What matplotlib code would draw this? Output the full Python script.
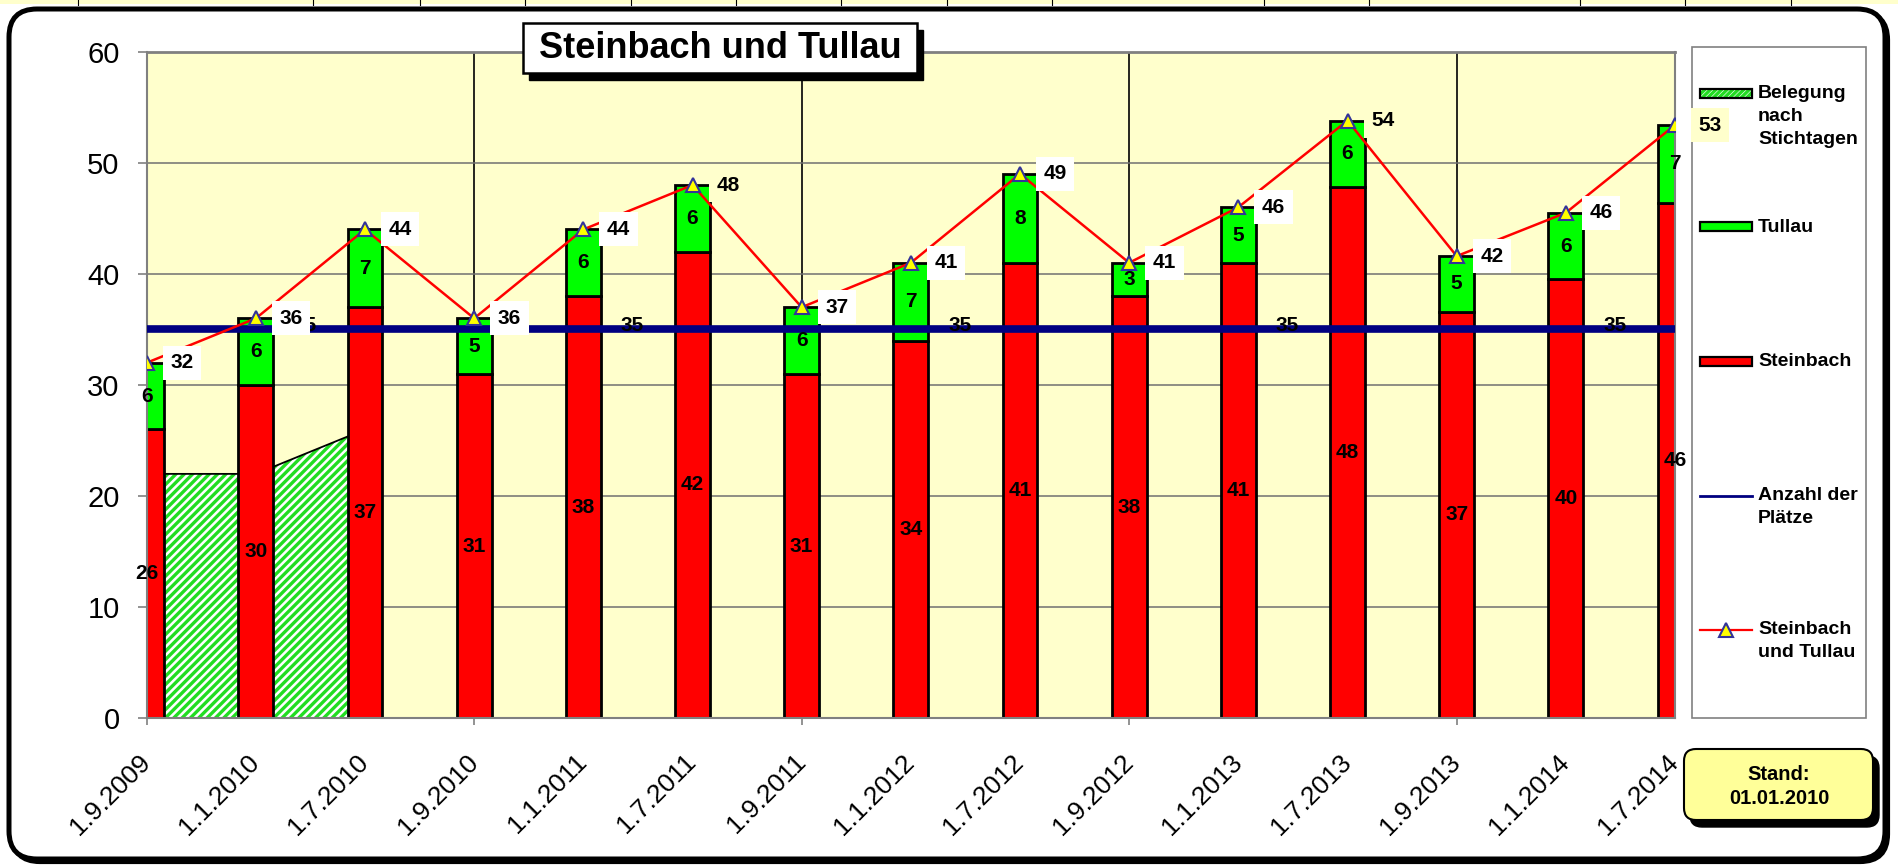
import matplotlib
matplotlib.use("Agg")
import matplotlib.pyplot as plt
import numpy as np
from matplotlib.patches import FancyBboxPatch, Rectangle
from matplotlib.transforms import offset_copy

plt.rcParams["font.family"] = ["Liberation Sans", "DejaVu Sans"]
plt.rcParams["hatch.color"] = "#22DD22"
plt.rcParams["hatch.linewidth"] = 2.4

# -----------------------------
# DATA
# -----------------------------
dates = ["1.9.2009", "1.1.2010", "1.7.2010", "1.9.2010", "1.1.2011", "1.7.2011",
         "1.9.2011", "1.1.2012", "1.7.2012", "1.9.2012", "1.1.2013", "1.7.2013",
         "1.9.2013", "1.1.2014", "1.7.2014"]
steinbach = [26, 30, 37, 31, 38, 42, 31, 34, 41, 38, 41, 47.8, 36.6, 39.5, 46.4]
tullau = [6, 6, 7, 5, 6, 6, 6, 7, 8, 3, 5, 6, 5, 6, 7]
belegung = [22, 22, 26, np.nan, np.nan, np.nan, np.nan, np.nan, np.nan, np.nan,
            np.nan, np.nan, np.nan, np.nan, np.nan]
plaetze = [35] * 15
y_ticks = [0, 10, 20, 30, 40, 50, 60]

W, H = 1898, 866
RED = "#FF0000"
GREEN = "#00FF00"
NAVY = "#000080"
PLOT_BG = "#FFFFCC"
HATCH_GREEN = "#22DD22"

x = np.arange(len(dates))
total = np.array(steinbach) + np.array(tullau)

fig = plt.figure(figsize=(W / 100, H / 100), dpi=100)
fig.patch.set_facecolor("white")

# background decoration layer in pixel coordinates
deco = fig.add_axes([0, 0, 1, 1], zorder=0)
deco.set_xlim(0, W)
deco.set_ylim(H, 0)
deco.axis("off")

# spreadsheet strip at the very top
deco.add_patch(Rectangle((0, 0), W, 4, facecolor="#FFFFCC", edgecolor="none"))
for cx in [78, 313, 420, 525, 631, 736, 841, 947, 1052, 1264, 1369, 1580, 1685, 1791]:
    deco.plot([cx, cx], [0, 5], color="black", lw=0.8)

# outer rounded frame with shadow
deco.add_patch(FancyBboxPatch((12, 12), 1876, 850, boxstyle="round,pad=0,rounding_size=28",
                              facecolor="black", edgecolor="black", lw=3))
deco.add_patch(FancyBboxPatch((9, 9), 1876, 850, boxstyle="round,pad=0,rounding_size=28",
                              facecolor="white", edgecolor="black", lw=3.6))

# legend box
deco.add_patch(Rectangle((1692, 47), 174, 671, facecolor="white", edgecolor="#808080", lw=1.2))
lx0, lx1, tx = 1700, 1752, 1758
fs_leg = 14


def legend_text(lines, y0):
    for n, line in enumerate(lines):
        deco.text(tx, y0 + n * 22.5, line, fontsize=fs_leg, fontweight="bold",
                  va="center", ha="left")


deco.add_patch(Rectangle((lx0, 89), lx1 - lx0, 9, facecolor="white", edgecolor=HATCH_GREEN,
                         lw=0, hatch="//////"))
deco.add_patch(Rectangle((lx0, 89), lx1 - lx0, 9, fill=False, edgecolor="black", lw=1.6))
legend_text(["Belegung", "nach", "Stichtagen"], 94)
deco.add_patch(Rectangle((lx0, 222), lx1 - lx0, 9, facecolor=GREEN, edgecolor="black", lw=1.6))
legend_text(["Tullau"], 227)
deco.add_patch(Rectangle((lx0, 357), lx1 - lx0, 9, facecolor=RED, edgecolor="black", lw=1.6))
legend_text(["Steinbach"], 362)
deco.plot([lx0, lx1], [496, 496], color=NAVY, lw=2)
legend_text(["Anzahl der", "Plätze"], 496)
deco.plot([lx0, lx1], [630, 630], color=RED, lw=1.6)
deco.plot([(lx0 + lx1) / 2], [630], marker="^", markersize=10, markerfacecolor="#FFFF00",
          markeredgecolor="#333399", markeredgewidth=1.5)
legend_text(["Steinbach", "und Tullau"], 630)

# "Stand" box
deco.add_patch(FancyBboxPatch((1690, 756), 189, 71, boxstyle="round,pad=0,rounding_size=12",
                              facecolor="black", edgecolor="black", lw=1))
deco.add_patch(FancyBboxPatch((1684, 749), 189, 71, boxstyle="round,pad=0,rounding_size=12",
                              facecolor="#FFFF99", edgecolor="black", lw=1.5))
deco.text(1779, 775, "Stand:", fontsize=14.5, fontweight="bold", ha="center", va="center")
deco.text(1779, 799, "01.01.2010", fontsize=14.5, fontweight="bold", ha="center", va="center")

# -----------------------------
# MAIN CHART
# -----------------------------
ax = fig.add_axes([146.7 / W, 1 - 718.3 / H, (1675 - 146.7) / W, (718.3 - 51.7) / H], zorder=2)
ax.set_facecolor(PLOT_BG)
ax.set_xlim(0, len(dates) - 1)
ax.set_ylim(0, 60)

bw = 0.32
mask = ~np.isnan(belegung)
bel = np.array(belegung)[mask]
ax.fill(np.r_[x[mask], x[mask][::-1]], np.r_[bel, np.zeros(mask.sum())],
        facecolor="white", edgecolor=HATCH_GREEN, hatch="////", lw=0, zorder=1)
ax.plot(x[mask], bel, color="black", lw=1.3, zorder=1.1)

ax.bar(x, steinbach, width=bw, color=RED, edgecolor="black", lw=2, zorder=2)
ax.bar(x, tullau, bottom=steinbach, width=bw, color=GREEN, edgecolor="black", lw=2, zorder=2)

ax.plot(x, plaetze, color=NAVY, lw=5.5, zorder=3, solid_capstyle="butt")
ax.plot(x, total, color=RED, lw=1.8, zorder=4, marker="^", markersize=10,
        markerfacecolor="#FFFF00", markeredgecolor="#333399", markeredgewidth=1.5)

fs_lab = 15
for i in x:
    s, t = steinbach[i], tullau[i]
    ax.text(i, s / 2, f"{s:.0f}", ha="center", va="center", fontsize=fs_lab,
            fontweight="bold", zorder=5)
    ax.text(i, s + t / 2, f"{t:.0f}", ha="center", va="center", fontsize=fs_lab,
            fontweight="bold", zorder=5)

for k in range(0, len(dates) - 1, 3):
    ax.text(k + 1.45, plaetze[k] + 0.4, f"{plaetze[k]}", ha="center", va="center",
            fontsize=fs_lab, fontweight="bold", zorder=4.5)

pale = {5, 11, 14}
for i in x:
    fc = PLOT_BG if i in pale else "white"
    ax.annotate(f"{total[i]:.0f}", (i, total[i]), xytext=(17, 0), textcoords="offset points",
                ha="left", va="center", fontsize=fs_lab, fontweight="bold", zorder=6,
                annotation_clip=False,
                bbox=dict(boxstyle="square,pad=0.36", facecolor=fc, edgecolor="none"))

ax.set_yticks(y_ticks)
ax.set_yticklabels([str(v) for v in y_ticks], fontsize=21)
ax.set_xticks(range(0, len(dates) - 1, 3))
ax.set_xticklabels([])
ax.tick_params(axis="y", length=6.5, width=1.2, color="#808080", pad=13)
ax.tick_params(axis="x", length=5, width=1.2, color="#808080")
ax.xaxis.grid(True, color="black", lw=1.2)
ax.yaxis.grid(True, color="#707070", lw=1.1)
ax.set_axisbelow(True)
for side in ["left", "bottom", "right"]:
    ax.spines[side].set_color("#808080")
    ax.spines[side].set_linewidth(1.5)
ax.spines["top"].set_color("#808080")
ax.spines["top"].set_linewidth(2)

lab_tr = offset_copy(ax.get_xaxis_transform(), fig=fig, x=0, y=-40, units="dots")
for i, d in enumerate(dates):
    ax.text(i, 0, d, transform=lab_tr, rotation=45, rotation_mode="anchor",
            ha="right", va="center", fontsize=19)

# -----------------------------
# TITLE LAYER
# -----------------------------
top = fig.add_axes([0, 0, 1, 1], zorder=3)
top.set_xlim(0, W)
top.set_ylim(H, 0)
top.axis("off")
top.patch.set_visible(False)
top.add_patch(Rectangle((529, 30), 394, 50, facecolor="black", edgecolor="black", lw=1))
top.add_patch(Rectangle((523, 23), 394, 50, facecolor="white", edgecolor="black", lw=1.8))
top.text(720, 49, "Steinbach und Tullau", fontsize=26, fontweight="bold",
         ha="center", va="center")

fig.savefig("out.png", dpi=100)
